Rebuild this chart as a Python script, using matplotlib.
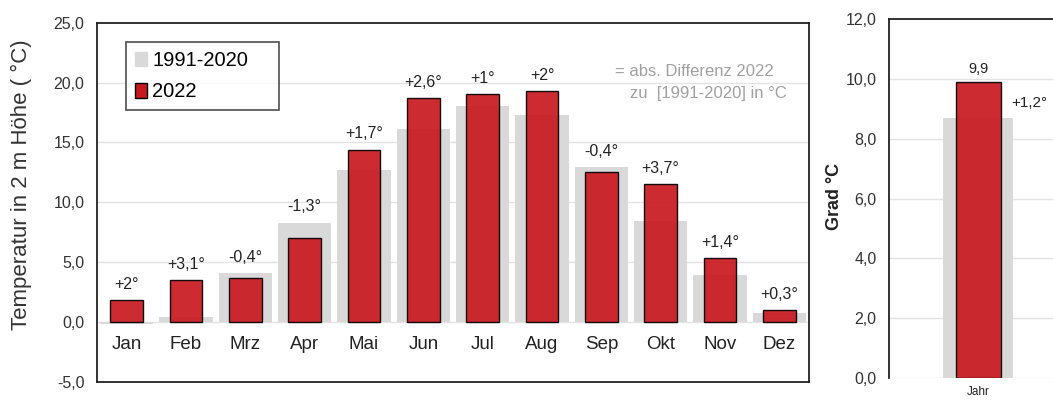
import matplotlib
matplotlib.use("Agg")
import matplotlib.pyplot as plt
from matplotlib.patches import Patch

plt.rcParams['font.family'] = ['Liberation Sans', 'DejaVu Sans']

months = ['Jan', 'Feb', 'Mrz', 'Apr', 'Mai', 'Jun', 'Jul', 'Aug', 'Sep', 'Okt', 'Nov', 'Dez']
t_1991_2020 = [-0.2, 0.4, 4.1, 8.3, 12.7, 16.1, 18.0, 17.3, 12.9, 8.4, 3.9, 0.7]
t_2022 = [1.8, 3.5, 3.7, 7.0, 14.4, 18.7, 19.0, 19.3, 12.5, 11.5, 5.3, 1.0]
diff_labels = ['+2°', '+3,1°', '-0,4°', '-1,3°', '+1,7°', '+2,6°', '+1°', '+2°',
               '-0,4°', '+3,7°', '+1,4°', '+0,3°']

year_label = ['Jahr']
year_1991_2020 = [8.7]
year_2022 = [9.9]
year_diff = '+1,2°'

GRAY = '#d9d9d9'
RED = '#c8191f'
GRID = '#e3e3e3'

fig = plt.figure(figsize=(10.53, 4.01), dpi=100)

# ---- monthly chart
ax = fig.add_axes([0.0921, 0.0481, 0.6762, 0.8953])
x = list(range(len(months)))
ax.bar(x, t_1991_2020, width=0.9, color=GRAY, zorder=2)
ax.bar(x, t_2022, width=0.55, color=RED, alpha=0.92, edgecolor='black', linewidth=1.0, zorder=3)
ax.set_xlim(-0.5, 11.5)
ax.set_ylim(-5, 25)
ax.set_yticks([-5, 0, 5, 10, 15, 20, 25])
ax.set_yticklabels(['-5,0', '0,0', '5,0', '10,0', '15,0', '20,0', '25,0'], fontsize=11.5, color='#333333')
ax.set_xticks([])
ax.tick_params(axis='y', length=0, pad=9)
for y in [0, 5, 10, 15, 20]:
    ax.axhline(y, color=GRID, linewidth=1.0, zorder=1)
for s in ax.spines.values():
    s.set_color('#222222')
    s.set_linewidth(1.3)

for i, m in enumerate(months):
    ax.text(i, -1.9, m, ha='center', va='center', fontsize=13.5, color='#222222')
    top = max(t_1991_2020[i], t_2022[i])
    ax.text(i, top + 1.3, diff_labels[i], ha='center', va='center', fontsize=11.5, color='#222222')

ax.set_ylabel('Temperatur in 2 m Höhe ( °C)', fontsize=16, color='#333333')
ax.yaxis.set_label_coords(-0.091, 0.548)

ax.text(8.23, 20.9, '= abs. Differenz 2022', ha='left', va='center', fontsize=12, color='#a0a0a0')
ax.text(8.48, 19.05, 'zu  [1991-2020] in °C', ha='left', va='center', fontsize=12, color='#a0a0a0')

handles = [Patch(facecolor=GRAY, edgecolor=GRAY, label='1991-2020'),
           Patch(facecolor=RED, edgecolor='black', label='2022')]
leg = ax.legend(handles=handles, loc='upper left', bbox_to_anchor=(0.0407, 0.768, 0.215, 0.178),
                mode='expand', fontsize=14.5, frameon=True, fancybox=False,
                handlelength=0.6, handleheight=0.75, handletextpad=0.25,
                borderpad=0.45, labelspacing=0.6, borderaxespad=0)
leg.get_frame().set_edgecolor('#222222')
leg.get_frame().set_linewidth(1.2)

# ---- annual chart
ax2 = fig.add_axes([0.8443, 0.0574, 0.169, 0.8945])
ax2.bar([0], year_1991_2020, width=0.787, color=GRAY, zorder=2)
ax2.bar([0], year_2022, width=0.506, color=RED, alpha=0.92, edgecolor='black', linewidth=1.0, zorder=3)
ax2.set_xlim(-1, 1)
ax2.set_ylim(0, 12)
ax2.set_yticks([0, 2, 4, 6, 8, 10, 12])
ax2.set_yticklabels(['0,0', '2,0', '4,0', '6,0', '8,0', '10,0', '12,0'], fontsize=11.5, color='#333333')
ax2.tick_params(axis='y', length=0, pad=9)
ax2.set_xticks([0])
ax2.set_xticklabels(year_label, fontsize=8.5, color='#222222')
ax2.tick_params(axis='x', length=0, pad=6)
for y in [0, 2, 4, 6, 8, 10]:
    ax2.axhline(y, color=GRID, linewidth=1.0, zorder=1)
ax2.spines['bottom'].set_visible(False)
ax2.spines['right'].set_visible(False)
for s in ['left', 'top']:
    ax2.spines[s].set_color('#222222')
    ax2.spines[s].set_linewidth(1.3)
ax2.text(0, year_2022[0] + 0.45, '9,9', ha='center', va='center', fontsize=10.5, color='#222222')
ax2.text(0.37, 9.2, year_diff, ha='left', va='center', fontsize=11, color='#222222')
ax2.set_ylabel('Grad °C', fontsize=13, fontweight='bold', color='#222222')
ax2.yaxis.set_label_coords(-0.26, 0.507)

fig.savefig('out.png', dpi=100)
